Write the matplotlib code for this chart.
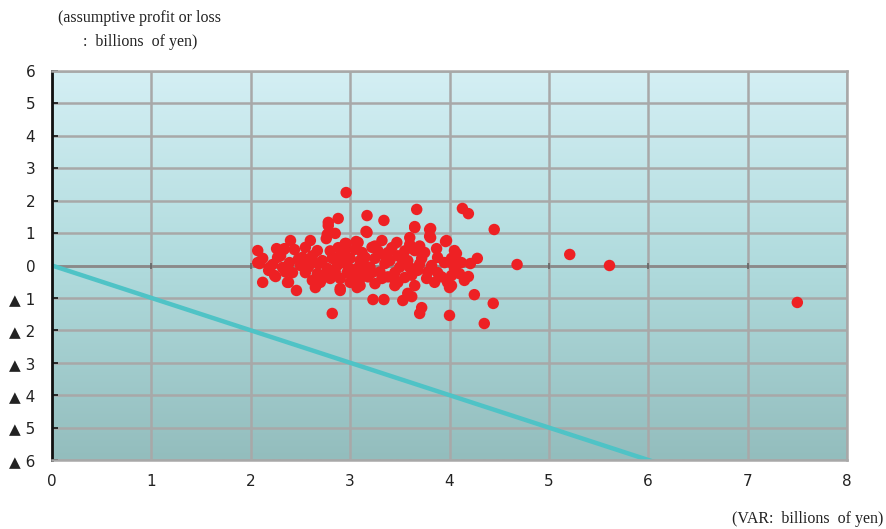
import numpy as np
import matplotlib
matplotlib.use("Agg")
import matplotlib.pyplot as plt
from matplotlib.colors import LinearSegmentedColormap

# VAR (billions of yen) and assumptive profit/loss (billions of yen)
var_vals = [
    7.50, 5.61, 5.21, 4.68, 4.45, 4.44, 4.35, 4.25, 4.13, 4.19, 4.00, 3.70, 3.72, 3.67, 3.65,
    3.80, 3.80, 3.60, 3.96, 4.07, 4.28, 4.12, 4.21, 4.03, 4.10, 4.19, 4.15, 3.98, 4.00, 3.62,
    3.53, 2.96, 3.17, 3.34, 2.78, 2.88, 3.16, 2.77, 2.85, 2.40, 2.60, 2.07, 2.26, 2.33, 2.44,
    3.06, 2.96, 2.12, 2.22, 2.07, 2.18, 2.25, 2.12, 2.38, 2.46, 2.65, 2.90, 3.07, 2.82, 3.23,
    3.34,
    2.78, 2.76, 2.95, 3.07, 2.34, 2.55, 2.67, 2.27, 2.52, 2.39, 2.09, 2.19, 2.60, 2.82, 2.90,
    3.00, 2.32, 2.24, 2.42, 2.55, 2.67, 2.77, 2.87, 2.97, 3.07, 2.37, 2.62, 2.70, 2.80, 2.90,
    3.00, 2.90, 3.07,
    3.17, 3.65, 3.81, 3.81, 3.97, 3.08, 3.32, 3.47, 3.22, 4.05, 3.12, 3.38, 3.65, 3.87, 3.25,
    3.52, 3.72, 3.88, 4.02, 3.13, 3.35, 3.60, 3.82, 3.95, 3.22, 3.45, 3.68, 3.88, 4.05, 3.10,
    3.32, 3.55, 3.77, 4.02, 3.10, 3.25, 3.48, 3.65, 3.85, 4.02, 3.45, 3.58,
    2.50, 2.62, 2.72, 2.85, 2.95, 3.05, 3.15, 3.20, 3.28, 3.30, 3.40, 3.42, 3.50, 3.55, 3.58,
    3.62, 3.70, 3.75, 3.78, 3.92, 3.10, 3.18, 2.98, 2.92, 2.88, 2.72, 2.58, 2.48, 2.30, 2.35,
    3.38, 3.48, 3.60, 3.70, 3.02, 3.25, 3.35, 3.45, 3.12, 2.80, 2.68,
]
pl_vals = [
    -1.14, 0.00, 0.34, 0.03, 1.11, -1.17, -1.79, -0.90, 1.76, 1.60, -1.54, -1.48, -1.30, 1.73, 1.20,
    1.11, 0.90, 0.86, 0.74, 0.37, 0.22, 0.09, 0.06, 0.06, -0.25, -0.34, -0.46, -0.52, -0.68, -0.96,
    -1.08, 2.25, 1.54, 1.39, 1.33, 1.45, 1.05, 0.96, 0.99, 0.77, 0.77, 0.46, 0.52, 0.49, 0.49,
    0.74, 0.68, 0.22, 0.03, 0.09, -0.15, -0.34, -0.52, -0.52, -0.77, -0.68, -0.77, -0.62, -1.48, -1.05,
    -1.05,
    1.23, 0.83, 0.68, 0.71, 0.52, 0.56, 0.46, 0.25, 0.25, 0.09, 0.06, -0.06, 0.09, 0.22, 0.31,
    0.22, -0.06, -0.31, -0.22, -0.22, -0.25, -0.09, 0.00, -0.22, -0.09, -0.52, -0.46, -0.52, -0.40, -0.40,
    -0.52, -0.71, -0.68,
    1.02, 1.17, 1.14, 0.86, 0.77, 0.71, 0.77, 0.71, 0.56, 0.46, 0.40, 0.40, 0.46, 0.52, 0.22,
    0.22, 0.22, 0.25, 0.22, 0.00, 0.06, -0.06, 0.00, 0.09, -0.22, -0.22, -0.15, -0.22, -0.09, -0.40,
    -0.40, -0.37, -0.40, -0.31, -0.62, -0.56, -0.52, -0.62, -0.52, -0.62, -0.62, -0.86,
    0.00, 0.30, 0.15, -0.20, 0.45, 0.50, 0.25, -0.05, 0.45, -0.20, 0.15, 0.55, -0.05, 0.45, 0.15,
    -0.30, 0.05, 0.40, -0.20, -0.35, 0.15, -0.35, -0.05, 0.10, 0.55, -0.30, -0.05, 0.20, 0.30, -0.20,
    -0.35, 0.30, 0.65, 0.60, -0.30, 0.60, 0.30, -0.45, -0.20, 0.45, 0.05,
]

x_ticks = [0, 1, 2, 3, 4, 5, 6, 7, 8]
y_ticks = [6, 5, 4, 3, 2, 1, 0, -1, -2, -3, -4, -5, -6]
y_tick_labels = ["6", "5", "4", "3", "2", "1", "0",
                 "▲ 1", "▲ 2", "▲ 3", "▲ 4", "▲ 5", "▲ 6"]
line_x = [0, 8]
line_y = [0, -8]

fig = plt.figure(figsize=(8.86, 5.29), dpi=100)
ax = fig.add_axes([52/886, 69/529, 795/886, 389/529])

# gradient background
cmap = LinearSegmentedColormap.from_list("bg", ["#d4eff4", "#b0dbdd", "#93bdbd"])
grad = np.linspace(0, 1, 256).reshape(-1, 1)
ax.imshow(grad, extent=[0, 8, -6, 6], aspect="auto", cmap=cmap, origin="upper", zorder=0)

ax.set_xlim(0, 8)
ax.set_ylim(-6, 6)

for xv in x_ticks:
    ax.axvline(xv, color="#a8a8a8", lw=1.8, zorder=1)
for yv in y_ticks:
    ax.axhline(yv, color="#a8a8a8", lw=1.8, zorder=1)
ax.axhline(0, color="#8a8a8a", lw=2.0, zorder=1.5)
ax.plot(x_ticks, [0]*len(x_ticks), linestyle="none", marker="|", color="#666666",
        markersize=5, mew=1.2, zorder=1.6)

ax.plot(line_x, line_y, color="#4fc3c6", lw=3.2, solid_capstyle="butt", zorder=2)
ax.scatter(var_vals, pl_vals, s=68, color="#ee2124", edgecolors="none", zorder=3)

for s in ["top", "right", "bottom"]:
    ax.spines[s].set_color("#a8a8a8")
    ax.spines[s].set_linewidth(1.8)
ax.spines["left"].set_color("#111111")
ax.spines["left"].set_linewidth(2.0)

ax.set_xticks(x_ticks)
ax.set_xticklabels([str(v) for v in x_ticks], fontsize=11, family="DejaVu Sans", color="#222222")
ax.set_yticks(y_ticks)
ax.set_yticklabels(y_tick_labels, fontsize=11, family="DejaVu Sans", color="#222222")
ax.tick_params(axis="x", length=0, pad=10)
ax.tick_params(axis="y", direction="in", length=4, width=1.2, color="#111111", pad=12)

fig.text(140/886, 1 - 18/529, "(assumptive profit or loss", ha="center", va="center",
         fontsize=11.5, family="Liberation Serif", color="#222222")
fig.text(140/886, 1 - 42/529, ":  billions  of yen)", ha="center", va="center",
         fontsize=11.5, family="Liberation Serif", color="#222222")
fig.text(808/886, 1 - 519/529, "(VAR:  billions  of yen)", ha="center", va="center",
         fontsize=11.5, family="Liberation Serif", color="#222222")

fig.savefig("out.png", dpi=100)
